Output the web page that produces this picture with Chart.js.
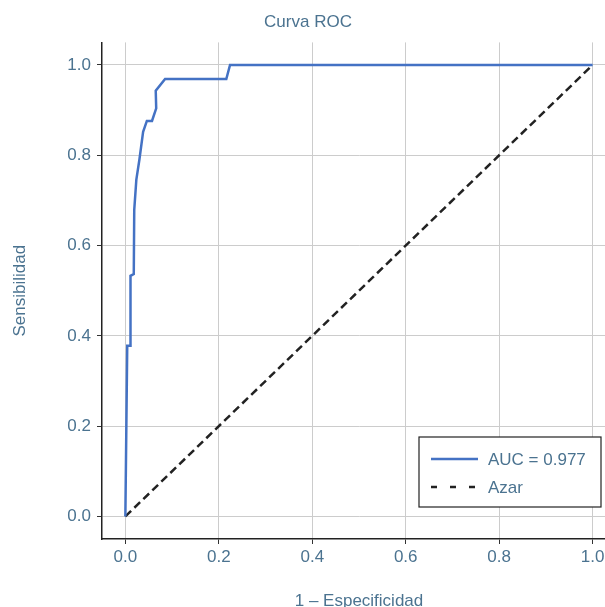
<!DOCTYPE html>
<html>
<head>
<meta charset="utf-8">
<script src="https://cdn.jsdelivr.net/npm/chart.js@4/dist/chart.umd.min.js"></script>
<style>
  html, body { margin: 0; padding: 0; background: #fff; overflow: hidden; }
  #wrap { width: 605px; height: 607px; overflow: hidden; }
</style>
</head>
<body>
<div id="wrap"><canvas id="rocChart" width="630" height="625"></canvas></div>
<script>
"use strict";

// ROC curve points
const fpr = [0, 0.004, 0.011, 0.011, 0.018, 0.019, 0.0235, 0.030, 0.038, 0.046, 0.057, 0.066, 0.065, 0.085, 0.216, 0.224, 1.0];
const tpr = [0, 0.378, 0.378, 0.533, 0.537, 0.679, 0.746, 0.790, 0.852, 0.876, 0.876, 0.904, 0.943, 0.969, 0.969, 1.0, 1.0];

// chance line
const chanceX = [0, 1];
const chanceY = [0, 1];

const tickValues = [0, 0.2, 0.4, 0.6, 0.8, 1.0];
const aucLabel    = "AUC = 0.977";
const chanceLabel = "Azar";

const textColor = '#4b7390';
const fontFamily = "'Liberation Sans', Arial, sans-serif";
const fontSize = 17;

function toPoints(xs, ys) {
    return xs.map((x, i) => ({ x: x, y: ys[i] }));
}

// legend box drawn inside the plot, lower right
const boxLegend = {
    id: 'boxLegend',
    afterDraw(chart) {
        const ctx = chart.ctx;
        const w = 182, h = 70;
        const x0 = chart.chartArea.right - 15 - w;
        const y0 = chart.chartArea.bottom - 32 - h;
        ctx.save();
        ctx.fillStyle = '#ffffff';
        ctx.fillRect(x0, y0, w, h);
        ctx.strokeStyle = '#222222';
        ctx.lineWidth = 1.2;
        ctx.strokeRect(x0, y0, w, h);
        chart.data.datasets.forEach(function (ds, i) {
            const y = y0 + 22 + i * 28;
            ctx.beginPath();
            // legend dashes are spaced wider than on the plot line
            ctx.setLineDash(ds.borderDash ? [6, 13] : []);
            ctx.strokeStyle = ds.borderColor;
            ctx.lineWidth = ds.borderWidth;
            ctx.moveTo(x0 + 12, y);
            ctx.lineTo(x0 + 59, y);
            ctx.stroke();
            ctx.setLineDash([]);
            ctx.fillStyle = textColor;
            ctx.font = fontSize + "px " + fontFamily;
            ctx.textBaseline = 'middle';
            ctx.fillText(ds.label, x0 + 69, y + 1);
        });
        ctx.restore();
    }
};

function fixedTicks(scale) {
    scale.ticks = tickValues.map(v => ({ value: v }));
}

const ctx = document.getElementById('rocChart').getContext('2d');

new Chart(ctx, {
    type: 'scatter',
    data: {
        datasets: [{
            label: aucLabel,
            data: toPoints(fpr, tpr),
            showLine: true,
            borderColor: '#4472c4',
            borderWidth: 2.5,
            pointRadius: 0,
            tension: 0
        }, {
            label: chanceLabel,
            data: toPoints(chanceX, chanceY),
            showLine: true,
            borderColor: '#222222',
            borderWidth: 2.5,
            borderDash: [8, 4.5],
            pointRadius: 0,
            tension: 0
        }]
    },
    options: {
        responsive: false,
        animation: false,
        layout: { padding: { top: 0, left: 0, right: 14, bottom: 0 } },
        plugins: {
            legend: { display: false },
            tooltip: { enabled: false },
            title: {
                display: true,
                text: 'Curva ROC',
                color: textColor,
                font: { family: fontFamily, size: fontSize, weight: 'normal' },
                padding: { top: 12, bottom: 10 }
            }
        },
        scales: {
            x: {
                type: 'linear',
                min: -0.05,
                max: 1.05,
                afterBuildTicks: fixedTicks,
                afterFit(scale) { scale.height = 86; },
                grid: { color: '#cccccc', lineWidth: 1, tickColor: '#333333', tickLength: 5 },
                border: { display: true, color: '#222222', width: 1.5 },
                ticks: {
                    color: textColor,
                    padding: 3,
                    font: { family: fontFamily, size: fontSize },
                    callback: v => v.toFixed(1)
                },
                title: {
                    display: true,
                    text: '1 – Especificidad',
                    color: textColor,
                    font: { family: fontFamily, size: fontSize },
                    padding: { top: 0, bottom: 13 }
                }
            },
            y: {
                type: 'linear',
                min: -0.05,
                max: 1.05,
                afterBuildTicks: fixedTicks,
                afterFit(scale) { scale.width = 102; },
                grid: { color: '#cccccc', lineWidth: 1, tickColor: '#333333', tickLength: 5 },
                border: { display: true, color: '#222222', width: 1.5 },
                ticks: {
                    color: textColor,
                    padding: 6,
                    font: { family: fontFamily, size: fontSize },
                    callback: v => v.toFixed(1)
                },
                title: {
                    display: true,
                    text: 'Sensibilidad',
                    color: textColor,
                    font: { family: fontFamily, size: fontSize },
                    padding: { top: 10, bottom: 0 }
                }
            }
        }
    },
    plugins: [boxLegend]
});
</script>
</body>
</html>
